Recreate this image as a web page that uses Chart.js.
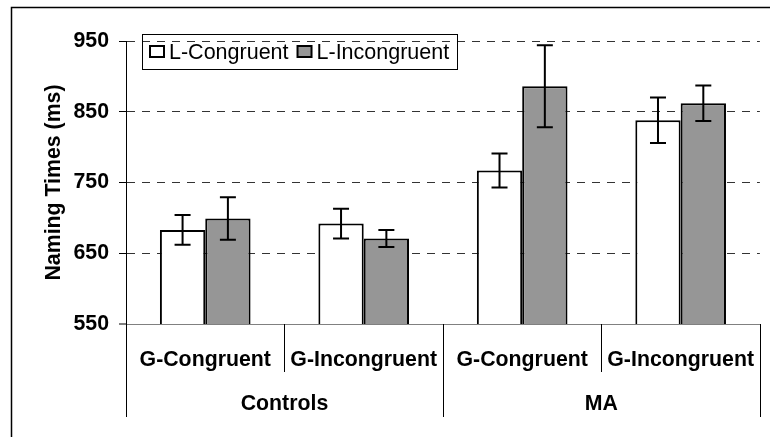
<!DOCTYPE html>
<html>
<head>
<meta charset="utf-8">
<script src="https://cdn.jsdelivr.net/npm/chart.js@4.4.1/dist/chart.umd.min.js"></script>
<style>
  body { margin: 0; background: #fff; }
  #wrap { width: 770px; height: 437px; }
</style>
</head>
<body>
<div id="wrap"><canvas id="chart" width="770" height="437"></canvas></div>
<script>
// data
const conditions = ["G-Congruent", "G-Incongruent", "G-Congruent", "G-Incongruent"];
const groups = ["Controls", "MA"];
const seriesNames = ["L-Congruent", "L-Incongruent"];
const lCongruent = [683, 692, 767, 838];
const lCongruentErr = [21, 21, 24, 32];
const lIncongruent = [699, 671, 886, 862];
const lIncongruentErr = [30, 12, 58, 25];
const yTicks = [550, 650, 750, 850, 950];

const FONT = '"Liberation Sans", Arial, sans-serif';
const BOLD = { family: FONT, size: 21.3, weight: 'bold' };
const errors = [lCongruentErr, lIncongruentErr];

// white page + outer frame
const framePlugin = {
  id: 'frame',
  beforeDraw(chart) {
    const ctx = chart.ctx;
    ctx.save();
    ctx.fillStyle = '#fff';
    ctx.fillRect(0, 0, chart.width, chart.height);
    ctx.restore();
  },
  afterDraw(chart) {
    const ctx = chart.ctx;
    ctx.save();
    ctx.strokeStyle = '#000';
    ctx.lineWidth = 1.5;
    ctx.strokeRect(11.5, 7.5, chart.width + 20, chart.height + 20);
    ctx.restore();
  }
};

// error bars from the y scale
const errorBarPlugin = {
  id: 'errorBars',
  afterDatasetsDraw(chart) {
    const ctx = chart.ctx;
    const y = chart.scales.y;
    ctx.save();
    ctx.strokeStyle = '#000';
    ctx.lineWidth = 2;
    chart.data.datasets.forEach((ds, di) => {
      const meta = chart.getDatasetMeta(di);
      meta.data.forEach((bar, i) => {
        const v = ds.data[i];
        const e = errors[di][i];
        const top = y.getPixelForValue(v + e);
        const bot = y.getPixelForValue(v - e);
        ctx.beginPath();
        ctx.moveTo(bar.x, top); ctx.lineTo(bar.x, bot);
        ctx.moveTo(bar.x - 8, top); ctx.lineTo(bar.x + 8, top);
        ctx.moveTo(bar.x - 8, bot); ctx.lineTo(bar.x + 8, bot);
        ctx.stroke();
      });
    });
    ctx.restore();
  }
};

// category separators below the axis
const separatorPlugin = {
  id: 'separators',
  afterDraw(chart) {
    const ctx = chart.ctx;
    const x = chart.scales.x;
    const x2 = chart.scales.x2;
    ctx.save();
    ctx.strokeStyle = '#000';
    ctx.lineWidth = 1;
    for (let i = 0; i <= conditions.length; i++) {
      const px = Math.round(x.getPixelForValue(i - 0.5)) + 0.5;
      const end = (i % 2 === 0) ? x2.bottom - 20 : x.bottom - 7;
      ctx.beginPath();
      ctx.moveTo(px, x.top);
      ctx.lineTo(px, end);
      ctx.stroke();
    }
    ctx.restore();
  }
};

// boxed legend inside the plot
const boxLegendPlugin = {
  id: 'boxLegend',
  afterDraw(chart) {
    const ctx = chart.ctx;
    const area = chart.chartArea;
    ctx.save();
    ctx.font = '21.5px ' + FONT;
    ctx.textBaseline = 'middle';
    const boxLeft = area.left + 16.5;
    const boxTop = area.top - 6.5;
    const cy = boxTop + 17.5;
    let x = boxLeft + 7.5;
    let textEnd = x;
    chart.data.datasets.forEach((ds) => {
      ctx.fillStyle = ds.backgroundColor;
      ctx.strokeStyle = '#000';
      ctx.lineWidth = 2;
      ctx.fillRect(x, cy - 6, 14, 11);
      ctx.strokeRect(x, cy - 6, 14, 11);
      ctx.fillStyle = '#000';
      ctx.fillText(ds.label, x + 19, cy + 1);
      textEnd = x + 19 + ctx.measureText(ds.label).width;
      x = textEnd + 9;
    });
    ctx.strokeStyle = '#000';
    ctx.lineWidth = 1;
    ctx.strokeRect(boxLeft, boxTop, Math.round(textEnd + 8 - boxLeft), 35);
    ctx.restore();
  }
};

new Chart(document.getElementById('chart'), {
  type: 'bar',
  data: {
    labels: conditions,
    datasets: [
      { label: seriesNames[0], data: lCongruent, backgroundColor: '#ffffff', borderColor: '#000', borderWidth: 2, borderSkipped: false, xAxisID: 'x' },
      { label: seriesNames[1], data: lIncongruent, backgroundColor: '#969696', borderColor: '#000', borderWidth: 2, borderSkipped: false, xAxisID: 'x' }
    ]
  },
  options: {
    responsive: false,
    animation: false,
    layout: { padding: { left: 0, right: 8, top: 41, bottom: 0 } },
    datasets: { bar: { barPercentage: 1, categoryPercentage: 0.572 } },
    plugins: { legend: { display: false }, tooltip: { enabled: false } },
    scales: {
      x: {
        type: 'category',
        position: 'bottom',
        weight: 0,
        offset: true,
        grid: { display: false },
        border: { display: true, color: '#808080', width: 1 },
        ticks: { font: BOLD, color: '#000', padding: 15, maxRotation: 0, autoSkip: false },
        afterFit: (s) => { s.height = 55; }
      },
      x2: {
        type: 'category',
        labels: groups,
        position: 'bottom',
        weight: 1,
        offset: true,
        grid: { display: false },
        border: { display: false },
        ticks: { font: BOLD, color: '#000', padding: 4, maxRotation: 0 },
        afterFit: (s) => { s.height = 58; }
      },
      y: {
        min: yTicks[0],
        max: yTicks[yTicks.length - 1],
        afterBuildTicks: (s) => { s.ticks = yTicks.map(v => ({ value: v })); },
        grid: {
          color: '#333',
          lineWidth: (c) => (c.index === 0 ? 0 : 1),
          tickLength: 7,
          tickWidth: 1,
          tickColor: '#000',
          tickBorderDash: []
        },
        border: { display: true, color: '#000', width: 1, dash: [8, 7] },
        ticks: { font: BOLD, color: '#000', padding: 10 },
        title: {
          display: true,
          text: 'Naming Times (ms)',
          font: BOLD,
          color: '#000',
          padding: { top: 41, bottom: 0 }
        },
        afterFit: (s) => { s.width = 126; }
      }
    }
  },
  plugins: [framePlugin, errorBarPlugin, separatorPlugin, boxLegendPlugin]
});
</script>
</body>
</html>
